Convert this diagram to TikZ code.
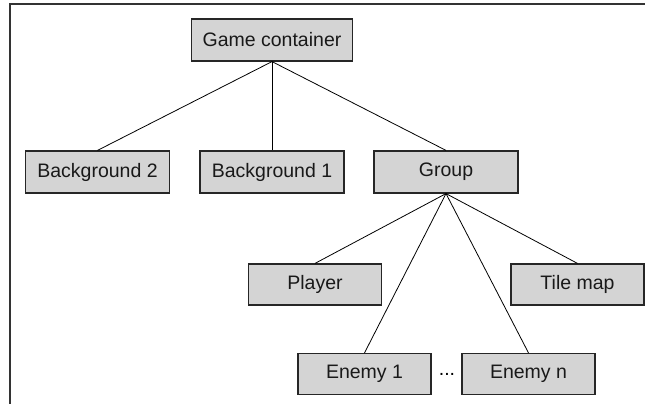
\documentclass[tikz,border=0pt]{standalone}
\usepackage{fontspec}
\setmainfont{Liberation Sans}
\usepackage{tikz}
\definecolor{boxgray}{HTML}{D4D4D4}
\tikzset{
  gnode/.style = {draw=black!85, fill=boxgray, line width=1.2pt, inner sep=0pt,
    minimum height=42pt, align=center, text=black!90,
    font=\fontsize{19.5}{22}\selectfont},% common box
  gnode_w/.style = {gnode, minimum width=161pt},% root box
  gnode_m/.style = {gnode, minimum width=144pt},% first level
  gnode_s/.style = {gnode, minimum width=133pt, minimum height=41pt},% second level
  link/.style = {draw=black, line width=0.8pt}
}

\begin{document}
\begin{tikzpicture}[x=1pt,y=-1pt]
    \useasboundingbox (0,0) rectangle (645,404);
    % frame
    \draw[line width=1.2pt, black!80] (645,4) -- (10,4) -- (10,404);
    % boxes
    \node [gnode_w] (game) at (272,40) {Game container};
    \node [gnode_m] (bgtwo) at (97.5,172) {Background 2};
    \node [gnode_m] (bgone) at (272,172) {Background 1};
    \node [gnode_m] (group) at (446,172) {Group};
    \node [gnode_s] (player) at (315,284.5) {Player};
    \node [gnode_s] (tilemap) at (577.5,284.5) {Tile map};
    \node [gnode_s] (enemyone) at (364.5,374) {Enemy 1};
    \node [gnode_s] (enemyn) at (528.5,374) {Enemy n};
    \node [font=\fontsize{19.5}{22}\selectfont, inner sep=0pt] (dots) at (447,374) {...};
    % links
    \foreach \c in {bgtwo,bgone,group}
        \draw [link] (game.south) -- (\c.north);
    \foreach \c in {player,enemyone,enemyn,tilemap}
        \draw [link] (group.south) -- (\c.north);
\end{tikzpicture}
\end{document}
